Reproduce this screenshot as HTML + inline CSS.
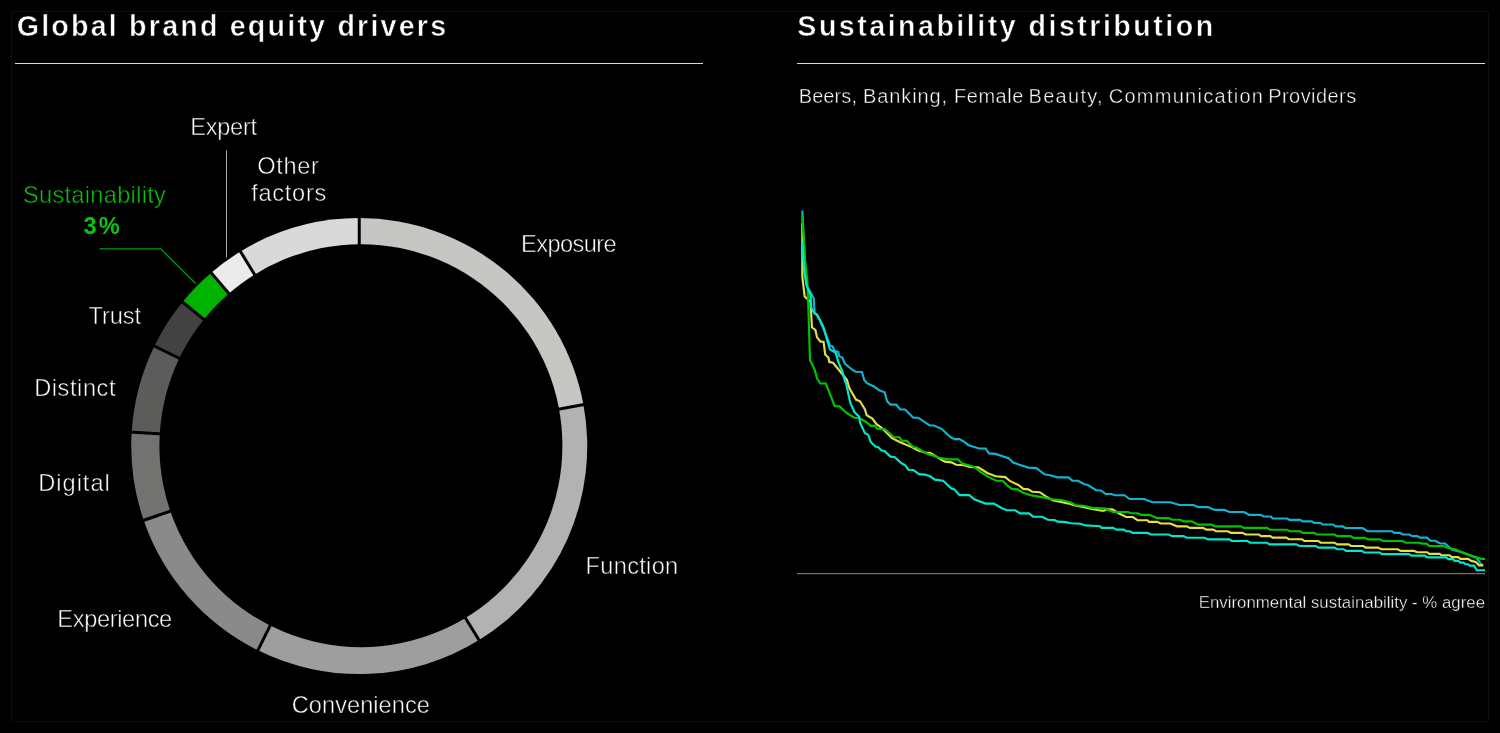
<!DOCTYPE html>
<html><head><meta charset="utf-8"><title>Global brand equity drivers</title>
<style>
html,body{margin:0;padding:0;background:#000;}
body{width:1500px;height:733px;overflow:hidden;font-family:"Liberation Sans",sans-serif;}
svg{display:block;}
text{font-family:"Liberation Sans",sans-serif;}
</style></head><body>
<svg width="1500" height="733" viewBox="0 0 1500 733">
<defs>
<filter id="gs" x="0" y="0" width="1500" height="733" filterUnits="userSpaceOnUse" color-interpolation-filters="sRGB"><feColorMatrix type="matrix" values="0.333 0.334 0.333 0 0  0.333 0.334 0.333 0 0  0.333 0.334 0.333 0 0  0 0 0 1 0"/></filter>
<filter id="gg" x="0" y="0" width="1500" height="733" filterUnits="userSpaceOnUse" color-interpolation-filters="sRGB"><feColorMatrix type="matrix" values="0 0.05 0 0 0  0 1 0 0 0  0 0.05 0 0 0  0 0 0 1 0"/></filter>
</defs>
<rect width="1500" height="733" fill="#000"/>
<rect x="11.5" y="11.5" width="1477" height="710" fill="none" stroke="#0c0c0c" stroke-width="1"/>
<!-- header rules -->
<rect x="15" y="63" width="688" height="1" fill="#d8d8d8"/>
<rect x="797" y="63" width="688" height="1" fill="#d8d8d8"/>
<!-- donut -->
<path d="M359.25 446.10L359.25 218.10A228.0 228.0 0 0 1 583.43 404.55Z" fill="#c6c6c3"/>
<path d="M359.25 446.10L583.43 404.55A228.0 228.0 0 0 1 479.06 640.08Z" fill="#b2b2b2"/>
<path d="M359.25 446.10L479.06 640.08A228.0 228.0 0 0 1 257.87 650.32Z" fill="#9e9e9e"/>
<path d="M359.25 446.10L257.87 650.32A228.0 228.0 0 0 1 143.67 520.33Z" fill="#8a8a8a"/>
<path d="M359.25 446.10L143.67 520.33A228.0 228.0 0 0 1 131.68 432.18Z" fill="#727270"/>
<path d="M359.25 446.10L131.68 432.18A228.0 228.0 0 0 1 154.32 346.15Z" fill="#5c5c5a"/>
<path d="M359.25 446.10L154.32 346.15A228.0 228.0 0 0 1 182.56 302.00Z" fill="#424242"/>
<path d="M359.25 446.10L182.56 302.00A228.0 228.0 0 0 1 211.18 272.73Z" fill="#00b300"/>
<path d="M359.25 446.10L211.18 272.73A228.0 228.0 0 0 1 240.46 251.49Z" fill="#ebebeb"/>
<path d="M359.25 446.10L240.46 251.49A228.0 228.0 0 0 1 359.25 218.10Z" fill="#d9d9d9"/>
<g stroke="#000" stroke-width="3"><line x1="359.25" y1="446.10" x2="359.25" y2="216.10"/><line x1="359.25" y1="446.10" x2="585.40" y2="404.19"/><line x1="359.25" y1="446.10" x2="480.11" y2="641.79"/><line x1="359.25" y1="446.10" x2="256.98" y2="652.11"/><line x1="359.25" y1="446.10" x2="141.78" y2="520.98"/><line x1="359.25" y1="446.10" x2="129.68" y2="432.06"/><line x1="359.25" y1="446.10" x2="152.53" y2="345.27"/><line x1="359.25" y1="446.10" x2="181.01" y2="300.73"/><line x1="359.25" y1="446.10" x2="209.88" y2="271.21"/><line x1="359.25" y1="446.10" x2="239.42" y2="249.78"/></g>
<circle cx="360.9" cy="445.7" r="201.5" fill="#000"/>
<!-- leader lines -->
<polyline points="99.6,248.9 160.7,248.9 195.6,283.5" fill="none" stroke="#009e00" stroke-width="1.3"/>
<line x1="226.5" y1="150.3" x2="226.5" y2="257.3" stroke="#b0b0b0" stroke-width="1"/>
<!-- axis -->
<rect x="797" y="573.2" width="688" height="1" fill="#8e8e8e"/>
<!-- curves -->
<g fill="none" stroke-width="2.15" stroke-linejoin="miter" stroke-miterlimit="3" stroke-linecap="butt">
<polyline points="802.3,210.6 804.0,245.0 806.0,280.0 807.2,286.5 813.7,298.0 814.6,312.0 819.5,319.3 823.6,329.0 830.0,345.5 832.6,346.3 834.2,350.4 838.3,352.0 839.1,356.1 842.4,357.8 844.8,363.5 852.2,369.7 855.5,371.7 862.0,372.0 864.2,380.0 867.0,383.1 870.2,384.8 874.0,386.5 879.8,390.6 884.7,392.3 887.1,401.3 890.4,404.6 896.1,404.6 900.2,409.5 905.1,409.5 913.3,417.7 918.2,417.7 929.7,425.5 934.0,425.5 941.5,428.8 950.5,437.0 954.5,439.1 959.5,439.1 964.4,441.9 968.5,445.2 979.1,448.5 985.6,448.5 988.9,453.4 995.5,453.9 1008.6,458.3 1013.5,462.7 1024.9,466.5 1028.2,467.6 1036.4,468.1 1044.6,474.3 1051.1,475.5 1057.7,477.4 1068.3,477.4 1072.4,480.7 1078.1,480.7 1083.8,484.0 1087.9,485.0 1096.1,490.2 1101.0,490.5 1105.7,494.0 1111.5,494.0 1114.7,495.2 1124.5,495.2 1129.5,499.0 1144.2,499.0 1152.4,502.2 1170.4,502.2 1179.4,505.0 1193.3,505.0 1198.2,507.1 1208.0,507.1 1214.6,509.9 1224.4,509.9 1229.3,512.0 1244.0,512.0 1248.9,514.8 1260.4,514.8 1263.7,516.5 1271.0,516.5 1272.5,518.5 1287.2,518.5 1289.6,519.8 1300.3,519.8 1302.7,521.4 1311.7,521.4 1314.2,523.0 1320.7,523.0 1322.4,524.5 1333.0,524.5 1335.5,526.3 1342.8,526.3 1345.3,528.0 1362.5,528.0 1367.4,531.2 1391.9,531.2 1394.4,532.9 1400.1,532.9 1402.6,534.5 1409.1,534.5 1412.4,536.1 1417.3,536.1 1419.8,537.6 1427.1,537.6 1430.4,540.7 1435.3,540.7 1440.2,543.5 1445.1,543.5 1451.7,549.5 1456.0,550.6 1463.7,552.8 1470.2,555.5 1476.2,557.7 1481.1,564.2 1483.0,565.5" stroke="#10b4d0"/>
<polyline points="802.3,223.0 802.3,277.0 804.7,296.4 810.5,302.0 812.0,327.5 815.4,330.0 817.0,337.3 820.3,341.4 823.6,342.0 825.2,354.5 828.5,357.8 829.3,362.0 833.0,362.7 839.0,370.0 847.0,380.0 849.0,387.2 850.3,389.8 856.0,399.6 860.0,401.3 865.0,409.5 866.7,415.2 872.4,418.5 876.5,424.2 881.4,427.5 892.0,438.1 900.2,442.2 911.7,447.1 918.2,450.4 924.8,452.5 930.0,452.9 944.7,461.6 951.3,462.4 956.2,464.8 964.4,465.3 969.3,467.0 978.3,467.3 987.3,473.0 995.5,476.3 1005.3,477.1 1010.2,481.2 1018.4,485.0 1023.3,488.9 1028.2,489.4 1032.3,491.8 1039.7,492.2 1046.2,496.7 1052.7,500.3 1060.9,502.0 1069.1,503.6 1074.0,505.3 1083.0,507.0 1092.0,509.0 1101.9,510.7 1104.0,510.7 1106.5,509.4 1112.3,509.4 1119.6,513.7 1126.2,517.0 1132.7,517.0 1137.6,520.2 1147.5,520.2 1149.0,521.9 1157.3,521.9 1160.6,523.5 1170.4,523.5 1176.9,526.3 1186.7,526.3 1190.0,527.9 1203.0,527.9 1206.4,529.6 1213.0,529.6 1216.2,531.2 1227.7,531.2 1231.0,532.8 1242.4,532.8 1245.7,534.5 1258.8,534.5 1261.2,536.1 1270.2,536.1 1272.5,537.6 1286.4,537.6 1288.8,539.2 1302.0,539.2 1304.4,541.0 1318.3,541.0 1320.7,542.7 1334.6,542.7 1337.1,544.3 1348.6,544.3 1351.0,546.0 1363.3,546.0 1365.7,547.6 1378.0,547.6 1381.3,549.2 1397.7,549.2 1400.9,550.9 1414.0,550.9 1417.3,552.2 1427.1,552.2 1429.3,553.8 1439.7,553.8 1441.3,555.2 1449.5,555.2 1451.7,557.1 1458.2,557.1 1460.4,558.8 1468.0,558.8 1471.3,560.9 1475.7,562.0 1479.0,565.3 1483.3,565.3" stroke="#e6de46"/>
<polyline points="802.3,216.0 805.0,260.0 807.2,280.0 808.0,296.4 810.0,360.2 814.6,369.2 817.0,378.2 820.3,383.5 825.7,383.4 830.6,395.6 834.7,406.2 839.6,406.2 846.2,412.7 854.4,417.7 859.3,418.0 865.8,421.7 870.8,425.8 874.8,425.8 877.3,428.8 884.7,429.1 893.7,437.0 899.4,437.3 901.9,440.6 906.8,440.9 913.3,447.1 916.6,447.5 921.5,450.7 928.0,454.0 932.0,455.2 938.2,457.5 948.0,459.4 957.8,459.4 961.9,463.2 974.2,467.0 980.7,472.2 988.9,477.1 996.3,480.7 1002.8,480.7 1006.9,485.3 1011.8,488.9 1017.6,489.4 1023.3,492.7 1031.5,495.4 1044.6,497.6 1051.1,499.2 1060.9,500.0 1070.8,502.5 1075.7,505.3 1083.8,505.7 1092.0,507.9 1101.9,508.4 1105.0,508.4 1113.0,512.0 1127.8,512.0 1131.0,513.2 1137.6,513.2 1141.0,514.8 1149.0,514.8 1157.3,518.1 1168.7,518.1 1172.0,519.7 1180.2,519.7 1183.5,521.4 1191.7,521.4 1198.2,524.6 1211.3,524.6 1214.6,526.3 1240.8,526.3 1244.0,527.9 1267.0,527.9 1270.2,529.7 1287.2,529.7 1289.6,531.2 1300.3,531.2 1302.7,532.9 1314.2,532.9 1316.6,534.5 1334.6,534.5 1337.1,536.1 1350.2,536.1 1353.5,537.8 1364.9,537.8 1368.2,539.4 1379.7,539.4 1382.9,541.0 1402.6,541.0 1405.8,542.7 1418.9,542.7 1422.2,543.6 1426.6,543.6 1429.3,546.0 1443.5,546.0 1447.3,547.8 1456.0,549.5 1463.7,553.3 1469.1,554.9 1475.7,557.1 1481.1,558.8 1485.0,558.8" stroke="#00c400"/>
<polyline points="802.3,242.0 804.0,270.0 806.4,285.0 810.5,294.7 811.3,307.8 814.6,313.6 817.0,314.4 823.6,327.5 827.7,342.2 830.0,349.6 835.8,352.9 838.3,362.0 842.4,371.7 844.6,380.0 846.2,384.1 850.3,403.0 854.4,412.0 859.3,416.8 860.0,422.6 865.0,433.2 868.3,434.9 870.8,442.2 875.7,446.8 878.0,447.0 881.4,450.4 884.7,451.2 890.4,456.6 894.5,457.0 901.9,463.5 905.1,465.1 908.4,469.7 913.3,470.0 919.0,474.1 924.8,474.6 930.0,476.3 934.9,479.6 943.1,480.7 951.3,488.6 954.5,489.4 959.5,495.1 969.3,495.1 974.2,499.2 985.6,503.6 993.8,503.6 1002.0,508.2 1006.9,510.2 1015.1,510.2 1020.0,513.4 1029.0,513.4 1033.1,516.7 1042.1,516.7 1047.8,519.7 1054.4,520.0 1057.7,521.6 1065.8,522.1 1070.8,523.3 1080.6,523.7 1085.5,525.4 1092.0,525.7 1100.0,526.3 1101.6,527.9 1113.0,527.9 1116.4,529.6 1123.7,529.6 1126.2,531.2 1129.5,531.2 1132.7,532.8 1147.5,532.8 1150.7,534.5 1168.7,534.5 1172.0,536.1 1183.5,536.1 1186.7,537.7 1204.7,537.7 1208.0,539.4 1229.3,539.4 1231.8,541.0 1247.3,541.0 1250.6,542.7 1267.0,542.7 1269.4,544.3 1296.2,544.3 1299.5,546.0 1315.8,546.0 1318.3,547.6 1334.6,547.6 1337.1,549.2 1343.6,549.2 1346.1,550.9 1361.7,550.9 1364.1,552.5 1379.7,552.5 1382.1,554.1 1409.1,554.1 1411.6,555.6 1424.9,555.6 1427.1,557.4 1446.2,557.4 1448.4,559.1 1452.8,559.1 1454.9,560.9 1458.2,560.9 1460.4,562.6 1463.7,562.6 1465.3,564.2 1468.0,564.2 1469.7,565.6 1474.0,565.6 1476.8,570.2 1485.0,570.2" stroke="#00e8cc"/>
</g>
<!-- text -->
<g filter="url(#gs)">
<text id="t0" x="16.73" y="35.90" font-size="28.6" font-weight="bold" fill="#fff" stroke="#000" stroke-width="0.56" textLength="429.31" lengthAdjust="spacing">Global brand equity drivers</text>
<text id="t1" x="797.33" y="35.90" font-size="28.6" font-weight="bold" fill="#fff" stroke="#000" stroke-width="0.56" textLength="415.79" lengthAdjust="spacing">Sustainability distribution</text>
<text id="t2" x="798.71" y="102.90" font-size="20" font-weight="normal" fill="#ffffff" stroke="#000" stroke-width="0.43" textLength="58.27" lengthAdjust="spacing">Beers,</text>
<text id="t3" x="863.12" y="102.90" font-size="20" font-weight="normal" fill="#ffffff" stroke="#000" stroke-width="0.43" textLength="83.87" lengthAdjust="spacing">Banking,</text>
<text id="t4" x="954.12" y="102.90" font-size="20" font-weight="normal" fill="#ffffff" stroke="#000" stroke-width="0.43" textLength="69.15" lengthAdjust="spacing">Female</text>
<text id="t5" x="1028.58" y="102.90" font-size="20" font-weight="normal" fill="#ffffff" stroke="#000" stroke-width="0.43" textLength="74.08" lengthAdjust="spacing">Beauty,</text>
<text id="t6" x="1108.70" y="102.90" font-size="20" font-weight="normal" fill="#ffffff" stroke="#000" stroke-width="0.43" textLength="154.28" lengthAdjust="spacing">Communication</text>
<text id="t7" x="1268.24" y="102.90" font-size="20" font-weight="normal" fill="#ffffff" stroke="#000" stroke-width="0.43" textLength="87.93" lengthAdjust="spacing">Providers</text>
<text id="t8" x="1198.70" y="607.70" font-size="16.8" font-weight="normal" fill="#ffffff" stroke="#000" stroke-width="0.37" textLength="286.29" lengthAdjust="spacing">Environmental sustainability - % agree</text>
<text id="t9" x="190.33" y="134.70" font-size="23.6" font-weight="normal" fill="#ffffff" stroke="#000" stroke-width="0.51" textLength="66.71" lengthAdjust="spacing">Expert</text>
<text id="t10" x="257.21" y="174.30" font-size="23.6" font-weight="normal" fill="#ffffff" stroke="#000" stroke-width="0.51" textLength="61.75" lengthAdjust="spacing">Other</text>
<text id="t11" x="251.22" y="201.10" font-size="23.6" font-weight="normal" fill="#ffffff" stroke="#000" stroke-width="0.51" textLength="75.02" lengthAdjust="spacing">factors</text>
<text id="t12" x="521.10" y="252.20" font-size="23.6" font-weight="normal" fill="#ffffff" stroke="#000" stroke-width="0.51" textLength="95.63" lengthAdjust="spacing">Exposure</text>
<text id="t13" x="585.57" y="573.90" font-size="23.6" font-weight="normal" fill="#ffffff" stroke="#000" stroke-width="0.51" textLength="92.65" lengthAdjust="spacing">Function</text>
<text id="t14" x="291.77" y="713.20" font-size="23.6" font-weight="normal" fill="#ffffff" stroke="#000" stroke-width="0.51" textLength="138.09" lengthAdjust="spacing">Convenience</text>
<text id="t15" x="57.33" y="627.40" font-size="23.6" font-weight="normal" fill="#ffffff" stroke="#000" stroke-width="0.51" textLength="114.91" lengthAdjust="spacing">Experience</text>
<text id="t16" x="38.24" y="490.90" font-size="23.6" font-weight="normal" fill="#ffffff" stroke="#000" stroke-width="0.51" textLength="71.55" lengthAdjust="spacing">Digital</text>
<text id="t17" x="34.17" y="395.60" font-size="23.6" font-weight="normal" fill="#ffffff" stroke="#000" stroke-width="0.51" textLength="81.34" lengthAdjust="spacing">Distinct</text>
<text id="t18" x="88.61" y="324.40" font-size="23.6" font-weight="normal" fill="#ffffff" stroke="#000" stroke-width="0.51" textLength="52.48" lengthAdjust="spacing">Trust</text>
</g>
<g filter="url(#gg)">
<text id="t19" x="22.93" y="202.90" font-size="23.6" font-weight="normal" fill="#18c418" stroke="#000" stroke-width="0.51" textLength="142.99" lengthAdjust="spacing">Sustainability</text>
<text id="t20" x="83.42" y="233.70" font-size="23.6" font-weight="bold" fill="#00c400" textLength="36.19" lengthAdjust="spacing">3%</text>
</g>
</svg>
</body></html>
